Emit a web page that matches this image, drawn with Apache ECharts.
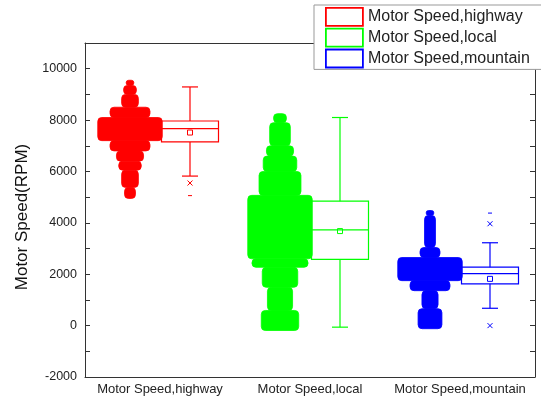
<!DOCTYPE html>
<html><head><meta charset="utf-8">
<script src="https://cdn.jsdelivr.net/npm/echarts@6/dist/echarts.min.js"></script>
<style>html,body{margin:0;padding:0;background:#fff}#c{width:541px;height:398px}</style>
</head><body><div id="c"></div>
<script>
// ---- data ----
const categories = ['Motor Speed,highway', 'Motor Speed,local', 'Motor Speed,mountain'];
const yTicks = { min: -2000, max: 11000, step: 1000, labelStep: 2000 };
// swarm density profiles: [upper RPM, lower RPM, relative density (1 = widest)]
const swarmHighway = [[9550, 9350, 0.12], [9350, 9000, 0.2], [9000, 8500, 0.26], [8500, 8100, 0.62], [8100, 7200, 1.0], [7200, 6800, 0.62], [6800, 6400, 0.42], [6400, 6050, 0.35], [6050, 5380, 0.26], [5380, 4950, 0.17]];
const swarmLocal = [[8250, 7900, 0.2], [7900, 7000, 0.32], [7000, 6600, 0.42], [6600, 6000, 0.52], [6000, 5070, 0.65], [5070, 2600, 1.0], [2600, 2270, 0.87], [2270, 1490, 0.55], [1490, 590, 0.39], [590, -190, 0.58]];
const swarmMountain = [[4480, 4290, 0.12], [4290, 3040, 0.17], [3040, 2650, 0.31], [2650, 1750, 1.0], [1750, 1360, 0.62], [1360, 660, 0.25], [660, -120, 0.37]];
// box statistics: [whisker low, Q1, median, Q3, whisker high, mean]
const boxHighway = [5820, 7150, 7670, 7965, 9290, 7515];
const boxLocal = [-60, 2575, 3730, 4845, 8100, 3680];
const boxMountain = [675, 1625, 2025, 2275, 3225, 1820];
// 1% / 99% markers (x) and min / max markers (-)
const pctHighway = [5550], pctLocal = [], pctMountain = [3965, 0];
const extHighway = [5060], extLocal = [], extMountain = [4380];

const colors = ['#ff0000', '#00ff00', '#0000ff'];
const swarms = [swarmHighway, swarmLocal, swarmMountain];
const boxes = [boxHighway, boxLocal, boxMountain];
const pcts = [pctHighway, pctLocal, pctMountain];
const exts = [extHighway, extLocal, extMountain];

const SWARM_OFFSET = 0.2, SWARM_MAXW = 0.215, BOX_OFFSET = 0.2, BOX_WIDTH = 0.38, CAP_WIDTH = 0.107;

function swarmRender(params, api) {
  const cat = api.value(0);
  const top = api.coord([cat, api.value(1)]);
  const bot = api.coord([cat, api.value(2)]);
  const band = api.size([1, 0])[0];
  const cx = top[0] - band * SWARM_OFFSET;
  const hw = Math.max(api.value(3) * band * SWARM_MAXW, 3);
  const h = bot[1] - top[1];
  const r = Math.min(4, h / 2, hw);
  const c = colors[cat];
  return { type: 'rect', shape: { x: cx - hw, y: top[1], width: 2 * hw, height: h, r: r },
    style: { fill: c, stroke: c, lineWidth: 0.8 } };
}
function boxRender(params, api) {
  const cat = api.value(0);
  const p = [1, 2, 3, 4, 5, 6].map(i => api.coord([cat, api.value(i)]));
  const band = api.size([1, 0])[0];
  const cx = p[0][0] + band * BOX_OFFSET;
  const hw = band * BOX_WIDTH / 2, cw = band * CAP_WIDTH / 2;
  const st = { stroke: colors[cat], fill: null, lineWidth: 1.2 };
  const ln = (x1, y1, x2, y2) => ({ type: 'line', shape: { x1, y1, x2, y2 }, style: st });
  return { type: 'group', children: [
    { type: 'rect', shape: { x: cx - hw, y: p[3][1], width: 2 * hw, height: p[1][1] - p[3][1] }, style: st },
    ln(cx - hw, p[2][1], cx + hw, p[2][1]),
    ln(cx, p[3][1], cx, p[4][1]), ln(cx, p[1][1], cx, p[0][1]),
    ln(cx - cw, p[4][1], cx + cw, p[4][1]), ln(cx - cw, p[0][1], cx + cw, p[0][1]),
    { type: 'rect', shape: { x: cx - 2.5, y: p[5][1] - 2.5, width: 5, height: 5 }, style: { stroke: colors[cat], fill: null, lineWidth: 1 } }
  ] };
}
function markRender(params, api) {
  const cat = api.value(0), kind = api.value(2);
  const pt = api.coord([cat, api.value(1)]);
  const band = api.size([1, 0])[0];
  const cx = pt[0] + band * BOX_OFFSET, y = pt[1];
  const st = { stroke: colors[cat], lineWidth: 1 };
  if (kind === 0) {
    return { type: 'group', children: [
      { type: 'line', shape: { x1: cx - 2.5, y1: y - 2.5, x2: cx + 2.5, y2: y + 2.5 }, style: st },
      { type: 'line', shape: { x1: cx - 2.5, y1: y + 2.5, x2: cx + 2.5, y2: y - 2.5 }, style: st }] };
  }
  return { type: 'line', shape: { x1: cx - 2, y1: y, x2: cx + 2, y2: y }, style: st };
}

const series = [];
categories.forEach((name, i) => {
  series.push({ name, type: 'custom', renderItem: swarmRender, itemStyle: { color: colors[i] },
    data: swarms[i].map(l => [i, l[0], l[1], l[2]]), encode: { x: 0, y: [1, 2] }, z: 2 });
  series.push({ name, type: 'custom', renderItem: boxRender, itemStyle: { color: colors[i] },
    data: [[i].concat(boxes[i])], encode: { x: 0, y: [1, 5] }, z: 3 });
  const marks = pcts[i].map(v => [i, v, 0]).concat(exts[i].map(v => [i, v, 1]));
  if (marks.length) series.push({ name, type: 'custom', renderItem: markRender, itemStyle: { color: colors[i] },
    data: marks, encode: { x: 0, y: 1 }, z: 3 });
});

const font = 'Liberation Sans, Arial, sans-serif';
const axisCol = '#333';
const chart = echarts.init(document.getElementById('c'));
chart.setOption({
  animation: false,
  backgroundColor: '#fff',
  grid: { left: 85, top: 43, right: 6, bottom: 21, containLabel: false },
  legend: {
    orient: 'vertical', left: 314, top: 5, itemWidth: 37, itemHeight: 18, itemGap: 1,
    padding: [2, 40, 1, 11], backgroundColor: '#fff', borderColor: '#999', borderWidth: 1, borderRadius: 0,
    textStyle: { fontFamily: font, fontSize: 16, color: '#222', lineHeight: 16 },
    data: categories.map((n, i) => ({ name: n, icon: 'rect', itemStyle: { color: '#fff', borderColor: colors[i], borderWidth: 1.8 } })),
    selectedMode: false, z: 10
  },
  xAxis: [
    { type: 'category', data: categories, position: 'bottom',
      axisLine: { onZero: false, lineStyle: { color: axisCol } },
      axisTick: { inside: true, alignWithLabel: true, length: 5, lineStyle: { color: axisCol } },
      axisLabel: { interval: 0, fontFamily: font, fontSize: 13, color: '#222', margin: 6 } },
    { type: 'category', data: categories, position: 'top',
      axisLine: { onZero: false, lineStyle: { color: axisCol } },
      axisTick: { inside: true, alignWithLabel: true, length: 5, lineStyle: { color: axisCol } },
      axisLabel: { show: false } }
  ],
  yAxis: [
    { type: 'value', min: yTicks.min, max: yTicks.max, interval: yTicks.step, position: 'left',
      axisLine: { show: true, onZero: false, lineStyle: { color: axisCol } },
      axisTick: { show: true, inside: true, length: 5, lineStyle: { color: axisCol } },
      splitLine: { show: false },
      axisLabel: { fontFamily: font, fontSize: 12.5, color: '#222', margin: 8,
        formatter: v => (v % yTicks.labelStep === 0 ? String(v) : '') } },
    { type: 'value', min: yTicks.min, max: yTicks.max, interval: yTicks.step, position: 'right',
      axisLine: { show: true, onZero: false, lineStyle: { color: axisCol } },
      axisTick: { show: true, inside: true, length: 5, lineStyle: { color: axisCol } },
      splitLine: { show: false }, axisLabel: { show: false } }
  ],
  graphic: [{ type: 'text', x: 22, y: 217, rotation: Math.PI / 2,
    style: { text: 'Motor Speed(RPM)', fontFamily: font, fontSize: 17, fill: '#111', align: 'center', verticalAlign: 'middle' } }],
  series
});
</script></body></html>
